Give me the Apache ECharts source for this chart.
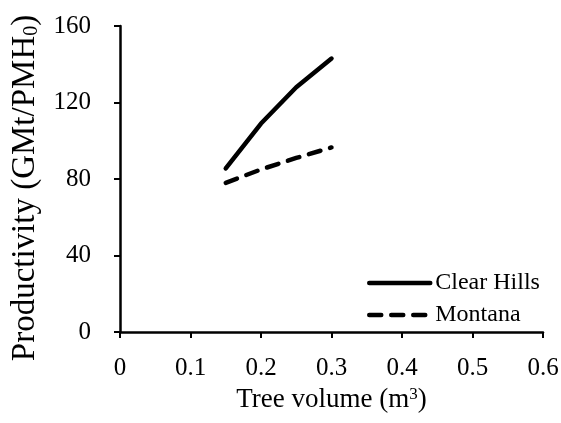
<!DOCTYPE html>
<html><head><meta charset="utf-8">
<script src="https://cdn.jsdelivr.net/npm/echarts@6/dist/echarts.min.js"></script>
<style>html,body{margin:0;padding:0;background:#fff}#c{width:561px;height:423px}</style>
</head><body><div id="c"></div>
<script>
const treeVolume = [0.15, 0.2, 0.25, 0.3];
const clearHills = [85.5, 109, 128, 143];
const montana = [78, 85, 91, 96.5];
const seriesNames = ['Clear Hills', 'Montana'];
const xTicks = [0, 0.1, 0.2, 0.3, 0.4, 0.5, 0.6];
const yTicks = [0, 40, 80, 120, 160];

const FONT = 'Liberation Serif';
const FS = 24;
const TICK_FS = 25;
const chart = echarts.init(document.getElementById('c'), null, {renderer: 'canvas'});
const pair = (xs, ys) => xs.map((x, i) => [x, ys[i]]);
chart.setOption({
  animation: false,
  backgroundColor: '#fff',
  textStyle: {fontFamily: FONT, color: '#000', fontSize: FS},
  grid: {left: 120, right: 18, top: 26, bottom: 91, containLabel: false, outerBoundsMode: 'none'},
  legend: {
    orient: 'vertical', left: 362, top: 266, itemWidth: 61, itemHeight: 14, itemGap: 8,
    data: seriesNames,
    itemStyle: {opacity: 0},
    lineStyle: {width: 4.5, type: 'inherit', color: '#000', opacity: 1},
    textStyle: {fontFamily: FONT, fontSize: FS, color: '#000'}
  },
  xAxis: {
    type: 'value', min: xTicks[0], max: xTicks[xTicks.length - 1], interval: 0.1,
    name: 'Tree volume (m{sup|3})', nameLocation: 'middle', nameGap: 38,
    nameTextStyle: {fontFamily: FONT, fontSize: 27, color: '#000',
      rich: {sup: {fontFamily: FONT, fontSize: 17, verticalAlign: 'top', padding: [0, 0, 12, 0], color: '#000'}}},
    axisLine: {lineStyle: {color: '#000', width: 2.5}},
    axisTick: {inside: false, length: 6, lineStyle: {color: '#000', width: 2}},
    splitLine: {show: false},
    axisLabel: {fontFamily: FONT, fontSize: TICK_FS, color: '#000', margin: 24,
      formatter: v => String(+v.toFixed(1))}
  },
  yAxis: {
    type: 'value', min: yTicks[0], max: yTicks[yTicks.length - 1], interval: 40,
    name: '{a|Productivity (GMt/PMH}{s|0}{a|)}', nameLocation: 'middle', nameGap: 78, nameRotate: 90,
    nameTextStyle: {fontFamily: FONT, fontSize: 33, color: '#000', padding: [0, 18, 0, 0],
      rich: {a: {fontFamily: FONT, fontSize: 33, color: '#000'},
             s: {fontFamily: FONT, fontSize: 20, color: '#000', padding: [14, 0, 0, 0]}}},
    axisLine: {show: true, lineStyle: {color: '#000', width: 2.5}},
    axisTick: {show: true, inside: false, length: 6, lineStyle: {color: '#000', width: 2}},
    splitLine: {show: false},
    axisLabel: {fontFamily: FONT, fontSize: TICK_FS, color: '#000', margin: 29}
  },
  series: [
    {name: seriesNames[0], type: 'line', data: pair(treeVolume, clearHills), symbol: 'none',
     lineStyle: {color: '#000', width: 4.5, cap: 'round', join: 'round'}, itemStyle: {color: '#000'}},
    {name: seriesNames[1], type: 'line', data: pair(treeVolume, montana), symbol: 'none',
     lineStyle: {color: '#000', width: 4.5, type: [12, 10], cap: 'round', join: 'round'}, itemStyle: {color: '#000'}}
  ]
});
</script></body></html>
